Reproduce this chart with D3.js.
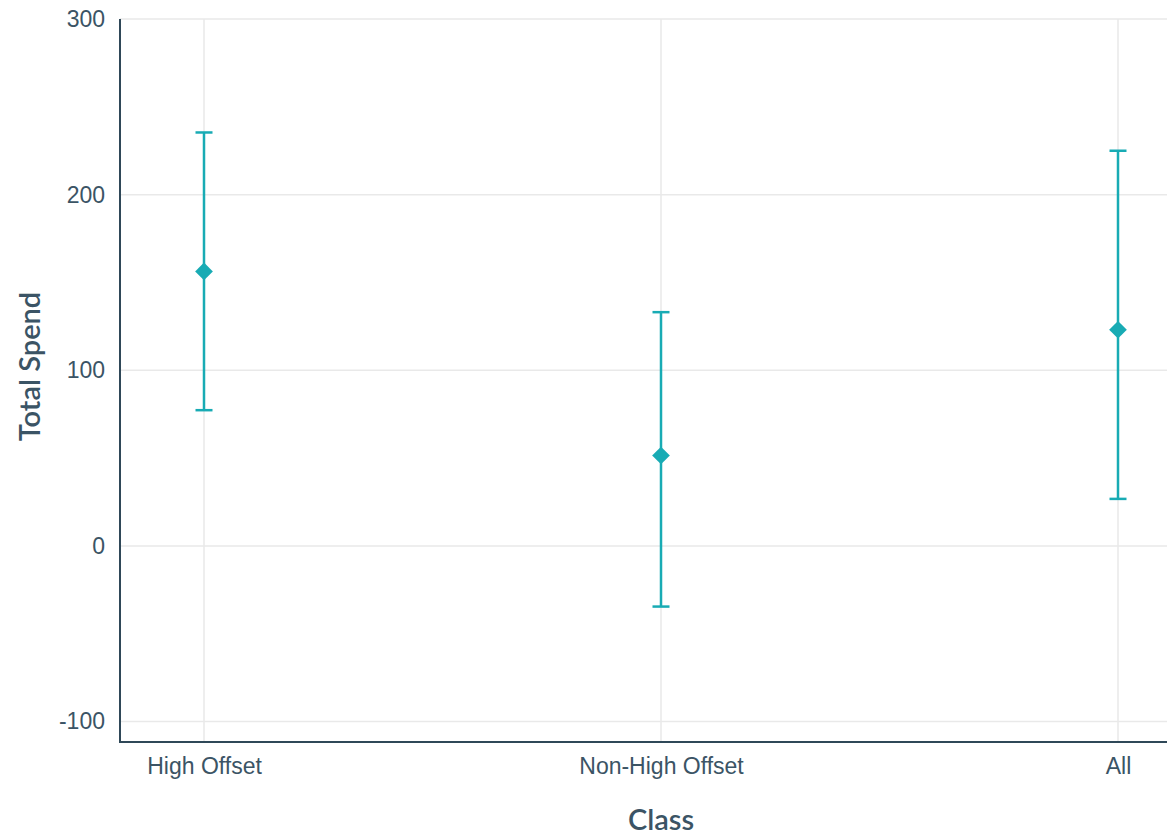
<!DOCTYPE html>
<html>
<head>
<meta charset="utf-8">
<script src="https://cdn.jsdelivr.net/npm/d3@7/dist/d3.min.js"></script>
<style>
  html, body { margin: 0; padding: 0; background: #ffffff; }
  svg { display: block; font-family: Lato, "Noto Sans", sans-serif; }
</style>
</head>
<body>
<svg id="chart" width="1167" height="838"></svg>
<script>
// Mean total spend per class with lower / upper interval bounds
const classes = ["High Offset", "Non-High Offset", "All"];
const means = [156.3, 51.5, 123.1];
const lowers = [77.3, -34.5, 26.8];
const uppers = [235.4, 133.1, 225.0];
const yTicks = [-100, 0, 100, 200, 300];

const svg = d3.select("#chart");
const W = 1167, H = 838;
const margin = { left: 120, top: 19 };
const plotBottom = 742;

const textColor = "#3b5465";
const axisColor = "#2f4858";
const markColor = "#18abb4";
const gridColor = "#e9e9e9";

const x = d3.scalePoint().domain(classes).range([204, 1118]);
const y = d3.scaleLinear().domain([-111.6, 300]).range([plotBottom, margin.top]);

const data = classes.map((c, i) => ({ c, mean: means[i], lo: lowers[i], hi: uppers[i] }));

// grid lines
const grid = svg.append("g");
grid.selectAll("line.h").data(yTicks).join("line")
  .attr("class", "h")
  .attr("x1", margin.left).attr("x2", W)
  .attr("y1", d => y(d)).attr("y2", d => y(d))
  .attr("stroke", gridColor).attr("stroke-width", 1.5);
grid.selectAll("line.v").data(classes).join("line")
  .attr("class", "v")
  .attr("x1", d => x(d)).attr("x2", d => x(d))
  .attr("y1", margin.top).attr("y2", plotBottom)
  .attr("stroke", gridColor).attr("stroke-width", 1.5);

// y axis
const yAxis = svg.append("g")
  .attr("transform", `translate(${margin.left},0)`)
  .call(d3.axisLeft(y).tickValues(yTicks).tickFormat(d => String(d)).tickSize(0).tickPadding(15));
yAxis.select(".domain").remove();
yAxis.selectAll("text").attr("fill", textColor).attr("font-size", 23);

// x axis
const xAxis = svg.append("g")
  .attr("transform", `translate(0,${plotBottom})`)
  .call(d3.axisBottom(x).tickSize(0).tickPadding(16));
xAxis.select(".domain").remove();
xAxis.selectAll("text").attr("fill", textColor).attr("font-size", 23);

// axis lines
svg.append("line")
  .attr("x1", margin.left).attr("x2", margin.left)
  .attr("y1", margin.top).attr("y2", plotBottom)
  .attr("stroke", axisColor).attr("stroke-width", 2);
svg.append("line")
  .attr("x1", margin.left - 1).attr("x2", W)
  .attr("y1", plotBottom).attr("y2", plotBottom)
  .attr("stroke", axisColor).attr("stroke-width", 2);

// error bars
const bars = svg.append("g");
const capHalf = 8.5;
bars.selectAll("line.stem").data(data).join("line")
  .attr("class", "stem")
  .attr("x1", d => x(d.c)).attr("x2", d => x(d.c))
  .attr("y1", d => y(d.hi)).attr("y2", d => y(d.lo))
  .attr("stroke", markColor).attr("stroke-width", 2.5);
bars.selectAll("line.capHi").data(data).join("line")
  .attr("class", "capHi")
  .attr("x1", d => x(d.c) - capHalf).attr("x2", d => x(d.c) + capHalf)
  .attr("y1", d => y(d.hi)).attr("y2", d => y(d.hi))
  .attr("stroke", markColor).attr("stroke-width", 2.5);
bars.selectAll("line.capLo").data(data).join("line")
  .attr("class", "capLo")
  .attr("x1", d => x(d.c) - capHalf).attr("x2", d => x(d.c) + capHalf)
  .attr("y1", d => y(d.lo)).attr("y2", d => y(d.lo))
  .attr("stroke", markColor).attr("stroke-width", 2.5);

// mean markers
const diamond = d3.symbol().type(d3.symbolDiamond2).size(200);
bars.selectAll("path.mean").data(data).join("path")
  .attr("class", "mean")
  .attr("transform", d => `translate(${x(d.c)},${y(d.mean)})`)
  .attr("d", diamond)
  .attr("fill", markColor);

// axis titles
svg.append("text")
  .attr("x", 661).attr("y", 830)
  .attr("text-anchor", "middle")
  .attr("fill", textColor).attr("font-size", 29).attr("font-weight", 600)
  .text("Class");
svg.append("text")
  .attr("transform", `translate(40,${(margin.top + plotBottom) / 2 - 14}) rotate(-90)`)
  .attr("text-anchor", "middle")
  .attr("fill", textColor).attr("font-size", 29).attr("font-weight", 600)
  .text("Total Spend");
</script>
</body>
</html>
